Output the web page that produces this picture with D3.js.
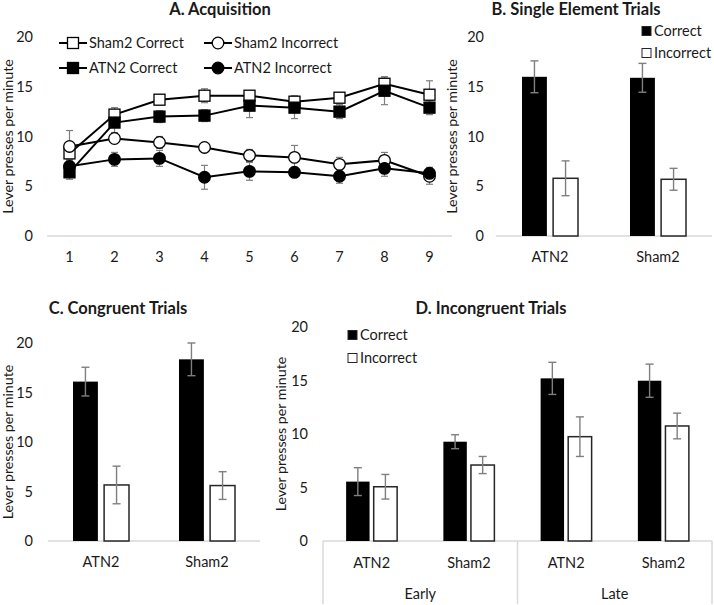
<!DOCTYPE html>
<html><head><meta charset="utf-8">
<script src="https://cdn.jsdelivr.net/npm/d3@7"></script>
<style>
body{margin:0;background:#fff}
svg{display:block}
text{font-family:Lato,"Open Sans",sans-serif;fill:#1a1a1a}
</style>
</head><body>
<svg id="c" width="714" height="605"></svg>
<script>
// ---------- DATA ----------
const days = ["1","2","3","4","5","6","7","8","9"];
const sham2Correct      = [8.3, 12.2, 13.7, 14.1, 14.1, 13.5, 13.9, 15.3, 14.2];
const sham2CorrectErr   = [0.6, 0.7, 0.5, 0.7, 0.5, 0.6, 0.5, 0.7, 1.4];
const atn2Correct       = [6.4, 11.4, 12.0, 12.1, 13.1, 12.9, 12.5, 14.6, 12.9];
const atn2CorrectErr    = [0.7, 1.0, 0.6, 0.6, 1.2, 1.1, 0.7, 1.4, 0.7];
const sham2Incorrect    = [9.0, 9.8, 9.4, 8.9, 8.1, 7.9, 7.2, 7.6, 6.0];
const sham2IncorrectErr = [1.6, 0.5, 0.6, 0.4, 0.6, 1.2, 0.7, 0.8, 0.8];
const atn2Incorrect     = [7.0, 7.7, 7.8, 5.9, 6.5, 6.4, 6.0, 6.8, 6.3];
const atn2IncorrectErr  = [0.6, 0.7, 0.8, 1.2, 0.9, 0.5, 0.7, 0.8, 0.6];

const groups = ["ATN2", "Sham2"];
const singleCorrect      = [16.0, 15.9];
const singleCorrectErr   = [1.6, 1.45];
const singleIncorrect    = [5.8, 5.7];
const singleIncorrectErr = [1.75, 1.1];

const congCorrect      = [16.1, 18.35];
const congCorrectErr   = [1.45, 1.65];
const congIncorrect    = [5.66, 5.6];
const congIncorrectErr = [1.9, 1.4];

const incongCats   = ["Early ATN2", "Early Sham2", "Late ATN2", "Late Sham2"];
const incongLabels = ["ATN2", "Sham2", "ATN2", "Sham2"];
const incongPhases = ["Early", "Late"];
const incongCorrect      = [5.55, 9.28, 15.2, 14.98];
const incongCorrectErr   = [1.3, 0.65, 1.5, 1.55];
const incongIncorrect    = [5.07, 7.1, 9.75, 10.75];
const incongIncorrectErr = [1.15, 0.8, 1.85, 1.2];

const yTicks = [0, 5, 10, 15, 20];
const yLabel = "Lever presses per minute";
const legendBar = ["Correct", "Incorrect"];

// ---------- DRAW ----------
const svg = d3.select("#c");
const ERR = "#7f7f7f", GRID = "#d9d9d9";

function yAxisText(y, xRight, labelX) {
  yTicks.forEach(t => {
    svg.append("text").attr("x", xRight).attr("y", y(t)).attr("dy", "0.35em")
      .attr("text-anchor", "end").style("font-size", "14.5px").text(t);
  });
  const [a, b] = y.range();
  svg.append("text").attr("transform", `translate(${labelX},${(a + b) / 2}) rotate(-90)`)
    .attr("text-anchor", "middle").attr("dy", "0.35em").style("font-size", "14.2px").text(yLabel);
}
function title(txt, x, yb) {
  svg.append("text").attr("x", x).attr("y", yb).attr("text-anchor", "middle")
    .style("font-size", "16.5px").style("font-weight", "bold").text(txt);
}
function errBar(g, x, y, v, e, cap) {
  g.append("line").attr("x1", x).attr("x2", x).attr("y1", y(v - e)).attr("y2", y(v + e));
  g.append("line").attr("x1", x - cap).attr("x2", x + cap).attr("y1", y(v + e)).attr("y2", y(v + e));
  g.append("line").attr("x1", x - cap).attr("x2", x + cap).attr("y1", y(v - e)).attr("y2", y(v - e));
}

// ---- Panel A ----
{
  const x = d3.scaleBand().domain(days).range([47, 452]);
  const y = d3.scaleLinear().domain([0, 20]).range([236, 37]);
  title("A. Acquisition", 220, 15);
  yAxisText(y, 33, 8);
  svg.append("line").attr("x1", 47).attr("x2", 452).attr("y1", y(0)).attr("y2", y(0))
    .attr("stroke", GRID).attr("stroke-width", 1.5);
  days.forEach(d => svg.append("text").attr("x", x(d) + x.bandwidth() / 2).attr("y", 257)
    .attr("dy", "0.35em").attr("text-anchor", "middle").style("font-size", "14.5px").text(d));

  const series = [
    {name: "Sham2 Correct", v: sham2Correct, e: sham2CorrectErr, shape: "sq", fill: "#fff"},
    {name: "Sham2 Incorrect", v: sham2Incorrect, e: sham2IncorrectErr, shape: "ci", fill: "#fff"},
    {name: "ATN2 Correct", v: atn2Correct, e: atn2CorrectErr, shape: "sq", fill: "#000"},
    {name: "ATN2 Incorrect", v: atn2Incorrect, e: atn2IncorrectErr, shape: "ci", fill: "#000"}
  ];
  const cx = d => x(d) + x.bandwidth() / 2;
  const eg = svg.append("g").attr("stroke", ERR).attr("stroke-width", 1.2);
  series.forEach(s => days.forEach((d, i) => errBar(eg, cx(d), y, s.v[i], s.e[i], 3.5)));
  const line = d3.line().x((v, i) => cx(days[i])).y(v => y(v));
  series.forEach(s => svg.append("path").attr("d", line(s.v)).attr("fill", "none")
    .attr("stroke", "#000").attr("stroke-width", 2));
  function marker(g, s, px, py) {
    if (s.shape === "sq") g.append("rect").attr("x", px - 5.5).attr("y", py - 5.5).attr("width", 11).attr("height", 11)
      .attr("fill", s.fill).attr("stroke", "#000").attr("stroke-width", 1.3);
    else g.append("circle").attr("cx", px).attr("cy", py).attr("r", 5.8)
      .attr("fill", s.fill).attr("stroke", "#000").attr("stroke-width", 1.3);
  }
  series.forEach(s => days.forEach((d, i) => marker(svg, s, cx(d), y(s.v[i]))));
  // legend
  const lx = [59, 204], ly = [43, 68];
  series.forEach((s, k) => {
    const X = lx[k % 2], Y = ly[Math.floor(k / 2)];
    svg.append("line").attr("x1", X).attr("x2", X + 28).attr("y1", Y).attr("y2", Y)
      .attr("stroke", "#000").attr("stroke-width", 2);
    marker(svg, s, X + 14, Y);
    svg.append("text").attr("x", X + 30).attr("y", Y).attr("dy", "0.35em")
      .style("font-size", "14.5px").text(s.name);
  });
}

function barPanel(o) {
  const x = d3.scaleBand().domain(o.cats).range(o.xr);
  const x1 = d3.scaleBand().domain(legendBar).range([0, o.gw]).paddingInner(o.pad);
  const y = d3.scaleLinear().domain([0, 20]).range(o.yr);
  title(o.title, o.tx, o.ty);
  yAxisText(y, o.tickX, o.labelX);
  svg.append("line").attr("x1", o.baseX0).attr("x2", o.xr[1]).attr("y1", y(0)).attr("y2", y(0))
    .attr("stroke", GRID).attr("stroke-width", 1.5);
  const vals = [o.c, o.i], errs = [o.ce, o.ie];
  const eg = [];
  o.cats.forEach((c, j) => {
    const g0 = x(c) + x.bandwidth() / 2 - o.gw / 2;
    legendBar.forEach((k, m) => {
      const bx = g0 + x1(k), v = vals[m][j];
      svg.append("rect").attr("x", bx).attr("y", y(v)).attr("width", x1.bandwidth())
        .attr("height", y(0) - y(v))
        .attr("fill", m === 0 ? "#000" : "#fff")
        .attr("stroke", m === 0 ? "none" : "#262626").attr("stroke-width", 1.5);
      eg.push([bx + x1.bandwidth() / 2, v, errs[m][j]]);
    });
    svg.append("text").attr("x", x(c) + x.bandwidth() / 2).attr("y", o.catY).attr("dy", "0.35em")
      .attr("text-anchor", "middle").style("font-size", "14.5px").text(o.labels[j]);
  });
  const g = svg.append("g").attr("stroke", ERR).attr("stroke-width", 1.4);
  eg.forEach(([ex, v, e]) => errBar(g, ex, y, v, e, 4));
  if (o.legX != null) {
    legendBar.forEach((k, m) => {
      const Y = o.legY[m];
      svg.append("rect").attr("x", o.legX).attr("y", Y - 4.5).attr("width", 9).attr("height", 9)
        .attr("fill", m === 0 ? "#000" : "#fff").attr("stroke", "#262626").attr("stroke-width", 1);
      svg.append("text").attr("x", o.legX + 12).attr("y", Y).attr("dy", "0.35em")
        .style("font-size", "14.5px").text(k);
    });
  }
  return {x, y};
}

// ---- Panel B ----
barPanel({cats: groups, labels: groups, xr: [496, 712], baseX0: 496, yr: [236, 37], gw: 56, pad: 0.2,
  c: singleCorrect, ce: singleCorrectErr, i: singleIncorrect, ie: singleIncorrectErr,
  title: "B. Single Element Trials", tx: 576, ty: 15, tickX: 484, labelX: 452, catY: 257,
  legX: 642, legY: [31, 53]});

// ---- Panel C ----
barPanel({cats: groups, labels: groups, xr: [48, 260], baseX0: 48, yr: [541, 343], gw: 56, pad: 0.2,
  c: congCorrect, ce: congCorrectErr, i: congIncorrect, ie: congIncorrectErr,
  title: "C. Congruent Trials", tx: 118, ty: 314, tickX: 33, labelX: 8, catY: 562,
  legX: null});

// ---- Panel D ----
{
  const r = barPanel({cats: incongCats, labels: incongLabels, xr: [323, 712], baseX0: 323, yr: [541, 327], gw: 51, pad: 0.15,
    c: incongCorrect, ce: incongCorrectErr, i: incongIncorrect, ie: incongIncorrectErr,
    title: "D. Incongruent Trials", tx: 491, ty: 314, tickX: 308, labelX: 281, catY: 563,
    legX: 348, legY: [335, 358]});
  const x = r.x, y0 = r.y(0);
  const bounds = [x(incongCats[0]), x(incongCats[2]), x(incongCats[3]) + x.bandwidth()];
  bounds.forEach(b => svg.append("line").attr("x1", b).attr("x2", b).attr("y1", y0).attr("y2", 604)
    .attr("stroke", GRID).attr("stroke-width", 1.5));
  incongPhases.forEach((p, k) => {
    svg.append("text").attr("x", (bounds[k] + bounds[k + 1]) / 2).attr("y", 594).attr("dy", "0.35em")
      .attr("text-anchor", "middle").style("font-size", "14.5px").text(p);
  });
}
</script>
</body></html>
